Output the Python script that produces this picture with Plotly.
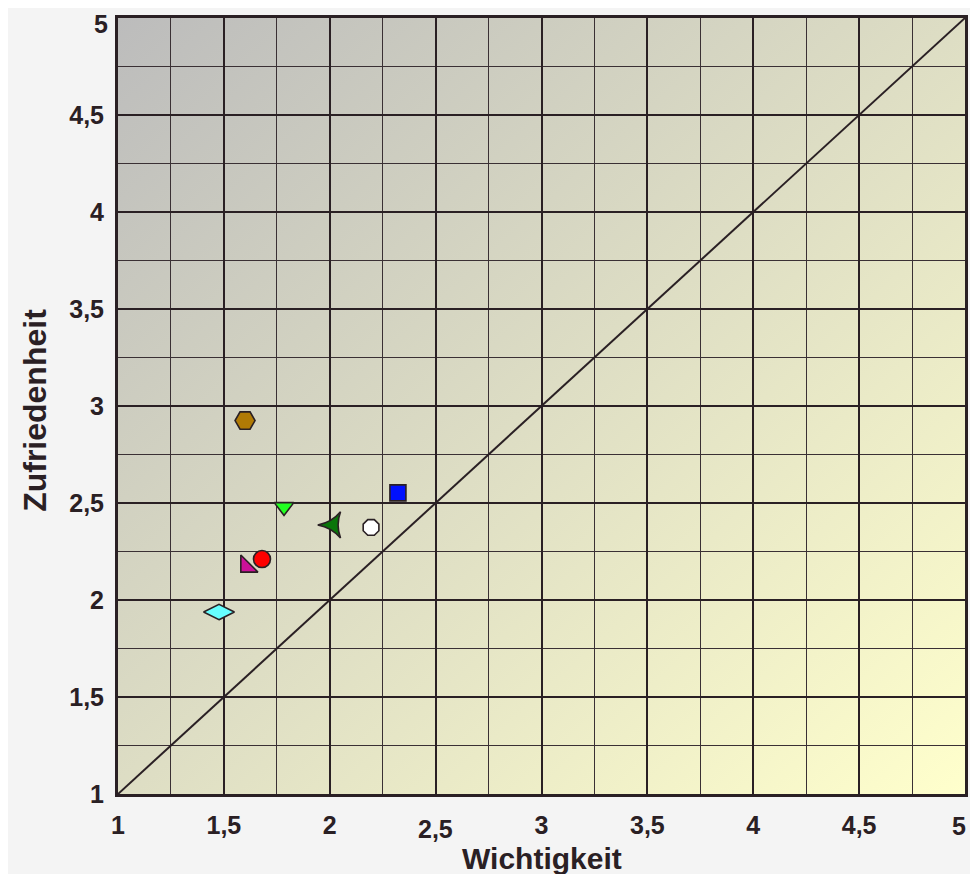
import base64
import plotly.graph_objects as go

# ---- data ----
x_wichtigkeit = [1.60, 1.784, 2.015, 2.195, 2.322, 1.680, 1.607, 1.477]
y_zufriedenheit = [2.925, 2.48, 2.387, 2.374, 2.552, 2.211, 2.173, 1.938]
marker_symbols = ["hexagon2", "triangle-down", "star-triangle-down", "octagon",
                  "square", "circle", "triangle-sw", "diamond-wide"]
marker_colors = ["#b07a05", "#22ff22", "#0a760a", "#ffffff",
                 "#0010ff", "#ff0000", "#cc1199", "#66ffff"]
marker_angles = [0, 0, 90, 0, 0, 0, 0, 0]
marker_sizes = [20, 17, 19, 17, 16, 17, 19, 22]

diag_x = [1, 5]
diag_y = [1, 5]

tick_vals = [1, 1.5, 2, 2.5, 3, 3.5, 4, 4.5, 5]
tick_text = ["1", "1,5", "2", "2,5", "3", "3,5", "4", "4,5", "5"]

DARK = "#2a2024"
FONT = "Liberation Sans, Arial, sans-serif"
TICK_SIZE = 25
TICK_FONT = dict(family=FONT, size=TICK_SIZE, color=DARK, weight="bold")

svg = (
    '<svg xmlns="http://www.w3.org/2000/svg" width="400" height="400" viewBox="0 0 400 400" '
    'preserveAspectRatio="none"><defs><linearGradient id="g" x1="0" y1="0" x2="1" y2="1">'
    '<stop offset="0" stop-color="#bcbcbc"/><stop offset="1" stop-color="#ffffcc"/>'
    '</linearGradient></defs><rect width="400" height="400" fill="url(#g)"/></svg>'
)
bg_src = "data:image/svg+xml;base64," + base64.b64encode(svg.encode()).decode()

fig = go.Figure()

fig.add_trace(go.Scatter(
    x=diag_x, y=diag_y, mode="lines",
    line=dict(color=DARK, width=2), hoverinfo="skip", showlegend=False,
))

fig.add_trace(go.Scatter(
    x=x_wichtigkeit, y=y_zufriedenheit, mode="markers", showlegend=False,
    marker=dict(symbol=marker_symbols, color=marker_colors, size=marker_sizes,
                angle=marker_angles, opacity=1,
                line=dict(color=DARK, width=1.6)),
))

# labels drawn separately (edge labels / offset label) get blank tick text
x_ticktext = [t if t not in ("2,5", "5") else "" for t in tick_text]
y_ticktext = [t if t != "5" else "" for t in tick_text]

axis_common = dict(
    range=[1, 5], tickmode="array", tickvals=tick_vals,
    showgrid=True, gridcolor=DARK, gridwidth=2,
    showline=True, linecolor=DARK, linewidth=3, mirror=True,
    zeroline=False, ticks="", fixedrange=True,
    ticklabeloverflow="allow", automargin=False,
    tickfont=TICK_FONT,
    minor=dict(tickmode="linear", tick0=1, dtick=0.25, showgrid=True,
               gridcolor="#3a3034", gridwidth=1, ticks=""),
)

fig.update_xaxes(**axis_common, ticktext=x_ticktext, ticklabelstandoff=7)
fig.update_yaxes(**axis_common, ticktext=y_ticktext, ticklabelstandoff=6)

# x label "2,5" (sits slightly lower in the original)
fig.add_annotation(x=tick_vals[3], xref="x", y=-0.0455, yref="paper", text=tick_text[3],
                   showarrow=False, xanchor="center", yanchor="middle", font=TICK_FONT)
# x label "5" at the right edge
fig.add_annotation(x=tick_vals[-1], xref="x", y=-0.0412, yref="paper", text=tick_text[-1],
                   showarrow=False, xanchor="right", yanchor="middle", xshift=3,
                   font=TICK_FONT)
# y label "5" at the top edge
fig.add_annotation(x=0, xref="paper", y=tick_vals[-1], yref="y", text=tick_text[-1],
                   showarrow=False, xanchor="right", yanchor="top", xshift=-8, yshift=10,
                   font=TICK_FONT)

fig.add_annotation(x=0.5, xref="paper", y=-0.0825, yref="paper", text="Wichtigkeit",
                   showarrow=False, xanchor="center", yanchor="middle",
                   font=dict(family=FONT, size=30, color=DARK, weight="bold"))
fig.add_annotation(x=-0.098, xref="paper", y=0.495, yref="paper", text="Zufriedenheit",
                   showarrow=False, xanchor="center", yanchor="middle", textangle=-90,
                   font=dict(family=FONT, size=32, color=DARK, weight="bold"))

fig.add_layout_image(dict(source=bg_src, xref="x", yref="y", x=1, y=5,
                          sizex=4, sizey=4, sizing="stretch", layer="below"))

fig.update_layout(
    width=962, height=866,
    margin=dict(l=110, r=5, t=10, b=80, autoexpand=False),
    paper_bgcolor="#f4f4f4", plot_bgcolor="#dcdcc4",
    font=dict(family=FONT, color=DARK),
)

fig.write_html("out.html")
